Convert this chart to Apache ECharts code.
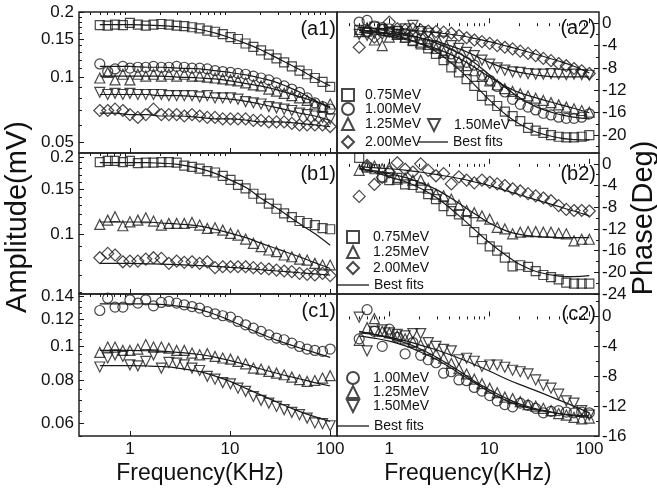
<!DOCTYPE html>
<html><head><meta charset="utf-8">
<script src="https://cdn.jsdelivr.net/npm/echarts@6/dist/echarts.min.js"></script>
<style>html,body{margin:0;padding:0;background:#fff}#c{width:657px;height:495px}</style>
</head><body><div id="c"></div>
<script>
// ---------- data ----------
const freq = [0.5,0.6,0.71,0.85,1.0,1.2,1.44,1.72,2.06,2.45,2.93,3.49,4.17,4.97,5.93,7.08,8.45,10.1,12.0,14.3,17.1,20.4,24.4,29.1,34.7,41.4,49.4,58.9,70.3,83.9,100];
const fitFreq = [0.5,0.7,1,1.5,2,3,5,7,10,15,20,30,50,70,100];

// (a1) amplitude
const a1_075 = [0.174,0.173,0.175,0.174,0.178,0.175,0.173,0.175,0.176,0.175,0.173,0.172,0.170,0.168,0.164,0.162,0.158,0.153,0.150,0.143,0.138,0.133,0.127,0.122,0.117,0.112,0.107,0.103,0.099,0.095,0.090];
const a1_100 = [0.115,0.106,0.109,0.112,0.110,0.111,0.111,0.112,0.111,0.111,0.112,0.111,0.110,0.110,0.109,0.107,0.106,0.105,0.104,0.103,0.101,0.099,0.097,0.094,0.091,0.088,0.085,0.080,0.076,0.073,0.071];
const a1_125 = [0.099,0.105,0.097,0.103,0.097,0.103,0.101,0.103,0.101,0.103,0.101,0.103,0.101,0.101,0.100,0.099,0.098,0.097,0.096,0.094,0.092,0.091,0.088,0.086,0.084,0.082,0.080,0.078,0.075,0.073,0.075];
const a1_150 = [0.085,0.083,0.084,0.083,0.084,0.083,0.083,0.083,0.083,0.082,0.082,0.082,0.082,0.081,0.082,0.080,0.080,0.080,0.079,0.077,0.076,0.075,0.073,0.072,0.071,0.070,0.068,0.067,0.066,0.065,0.064];
const a1_200 = [0.070,0.070,0.071,0.070,0.067,0.065,0.067,0.071,0.067,0.067,0.067,0.066,0.067,0.066,0.065,0.065,0.064,0.064,0.064,0.064,0.063,0.063,0.062,0.062,0.062,0.061,0.060,0.060,0.060,0.060,0.059];
const a1f_075 = [0.175,0.175,0.175,0.174,0.173,0.171,0.166,0.160,0.152,0.142,0.134,0.122,0.108,0.099,0.091];
const a1f_100 = [0.112,0.112,0.112,0.111,0.111,0.110,0.109,0.107,0.105,0.102,0.099,0.094,0.085,0.078,0.072];
const a1f_125 = [0.101,0.101,0.101,0.101,0.101,0.100,0.099,0.098,0.096,0.093,0.091,0.087,0.081,0.077,0.073];
const a1f_150 = [0.083,0.083,0.083,0.083,0.082,0.082,0.081,0.080,0.079,0.077,0.075,0.072,0.068,0.066,0.063];
const a1f_200 = [0.068,0.068,0.067,0.067,0.066,0.066,0.065,0.064,0.064,0.063,0.062,0.062,0.061,0.060,0.059];

// (a2) phase
const a2_075 = [-1.2,-1.5,-0.6,-1.0,-1.6,-2.0,-2.6,-3.2,-3.8,-4.5,-5.5,-6.6,-7.9,-8.8,-10.0,-11.2,-13.0,-13.8,-14.8,-15.8,-16.6,-17.5,-18.7,-19.2,-19.6,-20.0,-20.3,-20.4,-20.4,-20.3,-20.0];
const a2_100 = [0.2,0.5,-0.5,-0.8,-1.0,-1.4,-1.8,-2.3,-2.8,-3.4,-4.0,-4.8,-5.5,-6.2,-7.0,-7.5,-9.3,-10.2,-11.3,-12.3,-13.6,-14.5,-15.0,-15.5,-16.1,-16.4,-16.8,-17.0,-17.0,-16.8,-16.2];
const a2_125 = [-1.5,-0.8,-3.0,-4.0,-2.5,-2.0,-2.5,-3.0,-3.4,-3.8,-4.5,-5.2,-6.0,-6.8,-7.6,-8.5,-9.5,-10.3,-11.0,-11.7,-12.2,-12.6,-13.0,-13.4,-13.8,-14.2,-14.6,-15.0,-15.3,-15.6,-15.9];
const a2_150 = [-2.0,-2.2,-1.8,-2.0,-1.6,-1.5,-1.0,-0.4,-1.5,-1.8,-2.5,-3.2,-4.0,-4.5,-5.2,-5.8,-6.6,-7.3,-8.0,-8.4,-8.7,-8.8,-9.0,-9.1,-9.1,-9.0,-9.1,-9.2,-9.1,-9.2,-9.3];
const a2_200 = [-4.3,-1.5,-2.5,-1.2,0.2,-1.0,-1.2,-1.0,-1.2,-1.4,-1.5,-1.6,-1.8,-2.2,-2.6,-3.0,-3.3,-3.6,-4.0,-4.3,-4.6,-5.0,-5.4,-5.8,-6.3,-6.7,-7.2,-7.6,-8.1,-8.5,-9.0];
const a2f_075 = [-1.3,-1.6,-2.0,-2.8,-3.6,-5.2,-8.3,-10.9,-13.7,-16.5,-18.0,-19.5,-20.5,-20.8,-20.9];
const a2f_100 = [-0.8,-1.0,-1.4,-2.0,-2.6,-3.6,-5.4,-7.0,-9.2,-11.7,-13.3,-15.0,-16.3,-16.8,-17.1];
const a2f_125 = [-1.6,-1.9,-2.3,-3.0,-3.6,-4.6,-6.3,-7.8,-9.6,-11.4,-12.4,-13.4,-14.5,-15.2,-16.0];
const a2f_150 = [-1.3,-1.5,-1.8,-2.2,-2.6,-3.3,-4.6,-5.7,-7.0,-8.2,-8.8,-9.3,-9.6,-9.6,-9.6];
const a2f_200 = [-0.8,-0.9,-1.0,-1.2,-1.4,-1.7,-2.2,-2.7,-3.3,-4.1,-4.7,-5.6,-6.8,-7.7,-8.9];

// (b1) amplitude
const b1_075 = [0.191,0.193,0.193,0.191,0.193,0.189,0.190,0.190,0.191,0.191,0.190,0.185,0.183,0.180,0.176,0.174,0.169,0.163,0.156,0.151,0.144,0.138,0.132,0.126,0.121,0.117,0.113,0.111,0.109,0.106,0.105];
const b1_125 = [0.1096,0.1139,0.1174,0.1083,0.1122,0.1139,0.1163,0.1129,0.109,0.1106,0.1106,0.1106,0.1116,0.109,0.1058,0.1064,0.1042,0.1012,0.0997,0.0962,0.0926,0.0899,0.0873,0.086,0.0835,0.0822,0.0805,0.0798,0.0775,0.0764,0.0764];
const b1_200 = [0.0815,0.0847,0.0835,0.0786,0.0791,0.0791,0.0805,0.0815,0.081,0.0775,0.0791,0.0782,0.0786,0.0775,0.0786,0.0746,0.0752,0.0752,0.0752,0.0752,0.0746,0.0741,0.0737,0.073,0.0724,0.072,0.0709,0.0703,0.0699,0.0709,0.0695];
const b1f_075 = [0.190,0.190,0.190,0.190,0.189,0.187,0.180,0.173,0.163,0.151,0.139,0.126,0.110,0.101,0.091];
const b1f_125 = [0.112,0.112,0.112,0.112,0.111,0.110,0.108,0.105,0.1015,0.097,0.093,0.088,0.082,0.078,0.074];
const b1f_200 = [0.0775,0.0775,0.0775,0.0772,0.077,0.0766,0.076,0.0755,0.0748,0.074,0.0733,0.0724,0.0713,0.0706,0.0698];

// (b2) phase
const b2_075 = [1.1,-0.7,-1.0,-2.5,-3.0,-2.6,-3.8,-3.9,-4.4,-5.6,-6.5,-7.8,-8.7,-9.3,-10.5,-12.6,-13.9,-15.2,-16.0,-17.3,-18.9,-18.7,-19.0,-19.8,-20.5,-20.9,-21.3,-21.9,-22.1,-22.1,-22.1];
const b2_125 = [-1.2,-0.4,-0.4,-0.9,-0.7,-2.8,-2.6,-3.0,-3.0,-4.5,-5.6,-5.9,-6.5,-7.6,-8.6,-9.0,-9.6,-10.2,-11.7,-12.0,-12.9,-12.6,-12.5,-12.5,-12.6,-12.6,-12.8,-12.9,-14.2,-13.9,-13.9];
const b2_200 = [-6.0,-0.3,-3.8,-2.5,-1.5,0.2,-1.0,-1.5,0.0,-1.2,-2.2,-1.8,-3.7,-2.4,-3.0,-3.5,-3.0,-3.4,-3.7,-4.0,-4.6,-5.0,-5.5,-5.9,-6.3,-6.8,-7.7,-8.4,-8.6,-8.6,-8.7];
const b2f_075 = [-0.8,-1.5,-2.4,-3.4,-4.4,-6.3,-9.6,-12.0,-14.5,-17.0,-18.5,-19.9,-20.7,-20.8,-20.6];
const b2f_125 = [-1.0,-1.3,-1.8,-2.6,-3.4,-4.8,-7.3,-9.1,-10.9,-12.4,-13.0,-13.4,-13.6,-13.6,-13.6];
const b2f_200 = [-0.5,-0.7,-0.9,-1.2,-1.5,-2.0,-2.7,-3.3,-4.0,-5.0,-5.7,-6.7,-7.9,-8.7,-9.6];

// (c1) amplitude
const c1_100 = [0.1272,0.1381,0.1301,0.1301,0.1366,0.1336,0.1366,0.1312,0.1342,0.1351,0.1336,0.1321,0.1306,0.1292,0.1263,0.1244,0.1228,0.1217,0.1182,0.1156,0.1130,0.1106,0.1081,0.1058,0.1046,0.1023,0.1000,0.0983,0.0974,0.0968,0.0983];
const c1_125 = [0.0961,0.0996,0.0996,0.0974,0.0974,0.0983,0.1013,0.0996,0.0996,0.0989,0.0974,0.0974,0.0957,0.0946,0.0953,0.0936,0.0926,0.0919,0.0905,0.0891,0.0866,0.0860,0.0847,0.0837,0.0828,0.0815,0.0801,0.0792,0.0797,0.081,0.0823];
const c1_150 = [0.0872,0.0926,0.0946,0.0936,0.0885,0.0879,0.0905,0.0946,0.0866,0.0899,0.0895,0.0885,0.0866,0.0852,0.0819,0.0804,0.0786,0.0779,0.0757,0.0741,0.0716,0.0698,0.0685,0.0670,0.0656,0.0644,0.0634,0.062,0.060,0.0597,0.0589];
const c1f_100 = [0.133,0.133,0.133,0.133,0.1325,0.131,0.128,0.124,0.119,0.113,0.109,0.104,0.099,0.096,0.093];
const c1f_125 = [0.0975,0.0975,0.0975,0.0972,0.097,0.0962,0.0948,0.0932,0.091,0.0883,0.0862,0.0835,0.0805,0.0786,0.0768];
const c1f_150 = [0.088,0.088,0.088,0.0878,0.0875,0.0866,0.0845,0.0822,0.0792,0.0752,0.0725,0.0688,0.0647,0.0626,0.0606];

// (c2) phase
const c2_100 = [-3.0,0.9,-2.0,-4.0,-1.7,-2.8,-5.0,-3.5,-5.2,-5.8,-6.2,-7.6,-7.4,-8.5,-8.6,-9.5,-10.0,-10.6,-11.3,-11.8,-12.1,-11.6,-11.9,-12.3,-12.9,-12.7,-12.6,-12.8,-12.9,-12.8,-12.9];
const c2_125 = [-3.2,-1.5,-0.3,-2.0,-2.2,-2.6,-3.0,-3.4,-3.8,-4.4,-5.0,-5.6,-6.3,-7.0,-7.7,-8.4,-9.0,-9.6,-10.2,-10.8,-11.0,-11.4,-11.8,-12.0,-12.3,-12.6,-13.0,-13.2,-13.5,-13.7,-13.6];
const c2_150 = [-0.1,-4.6,-2.0,-1.8,-2.2,-2.4,-2.6,-2.3,-2.3,-3.5,-4.0,-4.4,-4.6,-5.8,-5.6,-6.0,-6.7,-6.5,-6.5,-6.8,-7.2,-7.4,-7.7,-8.5,-9.2,-9.6,-10.4,-11.3,-11.6,-12.6,-13.2];
const c2f_100 = [-2.6,-2.9,-3.3,-4.0,-4.7,-5.8,-7.6,-8.8,-10.1,-11.3,-11.9,-12.5,-13.0,-13.2,-13.3];
const c2f_125 = [-2.0,-2.4,-2.9,-3.6,-4.3,-5.5,-7.3,-8.6,-9.8,-11.0,-11.7,-12.4,-13.0,-13.3,-13.5];
const c2f_150 = [-2.2,-2.4,-2.8,-3.3,-3.8,-4.5,-5.6,-6.4,-7.3,-8.4,-9.1,-10.0,-11.2,-12.0,-12.9];

// tick labels
const xTickLabels = [1, 10, 100];
const xMinorTicks = [0.4,0.5,0.6,0.7,0.8,0.9,2,3,4,5,6,7,8,9,20,30,40,50,60,70,80,90];
const a1Ticks = [0.05, 0.1, 0.15, 0.2];
const b1Ticks = [0.1, 0.15, 0.2];
const c1Ticks = [0.06, 0.08, 0.1, 0.12, 0.14];
const a2Ticks = [-20, -16, -12, -8, -4, 0];
const b2Ticks = [-24, -20, -16, -12, -8, -4, 0];
const c2Ticks = [-16, -12, -8, -4, 0];
const a1Minor = [0.05,0.06,0.07,0.08,0.09,0.11,0.12,0.13,0.14,0.16,0.17,0.18,0.19];
const b1Minor = [0.06,0.07,0.08,0.09,0.11,0.12,0.13,0.14,0.16,0.17,0.18,0.19];
const c1Minor = [0.055,0.065,0.07,0.075,0.085,0.09,0.095,0.105,0.11,0.115,0.125,0.13,0.135];
const a2Minor = [-22,-18,-14,-10,-6,-2];
const b2Minor = [-22,-18,-14,-10,-6,-2];
const c2Minor = [-14,-10,-6,-2,2];

const panelLabels = ['(a1)','(a2)','(b1)','(b2)','(c1)','(c2)'];

// ---------- build ----------
const FONT = "'Liberation Sans', Arial, sans-serif";
const INK = '#1a1a1a';
const SYM = {'0.75MeV':'rect','1.00MeV':'circle','1.25MeV':'triangle','1.50MeV':'path://M0,0L10,0L5,10Z','2.00MeV':'diamond'};
const SIZE = {'0.75MeV':9,'1.00MeV':10,'1.25MeV':10,'1.50MeV':10,'2.00MeV':12};
const TICKFONT = 17;

const grids = [
  {left:79, top:12, width:258, height:141},
  {left:337, top:12, width:262, height:141},
  {left:79, top:153, width:258, height:141},
  {left:337, top:153, width:262, height:141},
  {left:79, top:294, width:258, height:142},
  {left:337, top:294, width:262, height:142}
];
const xRange = [[0.31,117],[0.3,125],[0.31,117],[0.3,125],[0.31,117],[0.3,125]];
const yDef = [
  {type:'log', min:0.0445, max:0.2, ticks:a1Ticks, minor:a1Minor},
  {type:'value', min:-23.2, max:2, ticks:a2Ticks, minor:a2Minor},
  {type:'log', min:0.059, max:0.207, ticks:b1Ticks, minor:b1Minor},
  {type:'value', min:-24, max:2, ticks:b2Ticks, minor:b2Minor},
  {type:'log', min:0.055, max:0.142, ticks:c1Ticks, minor:c1Minor},
  {type:'value', min:-16, max:3, ticks:c2Ticks, minor:c2Minor}
];
const panels = [
  [['0.75MeV',a1_075,a1f_075],['1.00MeV',a1_100,a1f_100],['1.25MeV',a1_125,a1f_125],['1.50MeV',a1_150,a1f_150],['2.00MeV',a1_200,a1f_200]],
  [['0.75MeV',a2_075,a2f_075],['1.00MeV',a2_100,a2f_100],['1.25MeV',a2_125,a2f_125],['1.50MeV',a2_150,a2f_150],['2.00MeV',a2_200,a2f_200]],
  [['0.75MeV',b1_075,b1f_075],['1.25MeV',b1_125,b1f_125],['2.00MeV',b1_200,b1f_200]],
  [['0.75MeV',b2_075,b2f_075],['1.25MeV',b2_125,b2f_125],['2.00MeV',b2_200,b2f_200]],
  [['1.00MeV',c1_100,c1f_100],['1.25MeV',c1_125,c1f_125],['1.50MeV',c1_150,c1f_150]],
  [['1.00MeV',c2_100,c2f_100],['1.25MeV',c2_125,c2f_125],['1.50MeV',c2_150,c2f_150]]
];

const fmt = v => String(+(+v).toFixed(3));
const xAxis = [], yAxis = [], series = [];
grids.forEach((g, i) => {
  xAxis.push({type:'log', logBase:10, gridIndex:i, min:xRange[i][0], max:xRange[i][1],
    axisLine:{show:false}, splitLine:{show:false},
    axisTick:{show:true, inside:true, length:5, customValues:xTickLabels, lineStyle:{color:INK, width:1}},
    axisLabel:{show:i>=4, customValues:xTickLabels, margin:5, fontSize:TICKFONT, color:'#111', fontFamily:FONT, formatter:fmt}});
});
grids.forEach((g, i) => {
  xAxis.push({type:'log', logBase:10, gridIndex:i, min:xRange[i][0], max:xRange[i][1],
    axisLine:{show:false}, splitLine:{show:false}, axisLabel:{show:false},
    axisTick:{show:true, inside:true, length:3, customValues:xMinorTicks, lineStyle:{color:INK, width:1}}});
});
grids.forEach((g, i) => {
  const d = yDef[i], right = (i % 2 === 1);
  yAxis.push({type:d.type, gridIndex:i, min:d.min, max:d.max, position:right?'right':'left',
    axisLine:{show:false}, splitLine:{show:false},
    axisTick:{show:true, inside:true, length:5, customValues:d.ticks, lineStyle:{color:INK, width:1}},
    axisLabel:{customValues:d.ticks, margin:right?3:5, fontSize:TICKFONT, color:'#111', fontFamily:FONT, formatter:fmt}});
});
grids.forEach((g, i) => {
  const d = yDef[i], right = (i % 2 === 1);
  yAxis.push({type:d.type, gridIndex:i, min:d.min, max:d.max, position:right?'right':'left',
    axisLine:{show:false}, splitLine:{show:false}, axisLabel:{show:false},
    axisTick:{show:true, inside:true, length:3, customValues:d.minor, lineStyle:{color:INK, width:1}}});
});
panels.forEach((list, i) => {
  list.forEach(([name, vals, fit]) => {
    series.push({type:'line', name:'Best fits', xAxisIndex:i, yAxisIndex:i,
      symbol:'none', showSymbol:false, smooth:0.4, z:2,
      itemStyle:{color:INK}, lineStyle:{color:INK, width:1.2},
      data: fitFreq.map((f, k) => [f, fit[k]])});
  });
  list.forEach(([name, vals, fit]) => {
    series.push({type:'scatter', name, xAxisIndex:i, yAxisIndex:i, z:3,
      symbol:SYM[name], symbolSize:SIZE[name],
      itemStyle:{color:'rgba(255,255,255,0)', borderColor:INK, borderWidth:1.2},
      data: freq.map((f, k) => [f, vals[k]])});
  });
});

// legend placements: [name, left, top, itemWidth, textPadLeft]
const legendPlaces = [
  ['0.75MeV',341,88,12,6],['1.00MeV',341,102,12,6],['1.25MeV',341,117,12,6],['1.50MeV',427,118,12,9],
  ['2.00MeV',341,135,12,6],['Best fits',418,135,30,0],
  ['0.75MeV',346,230,12,9],['1.25MeV',346,245,12,9],['2.00MeV',346,261,12,9],['Best fits',337,278,32,0],
  ['1.00MeV',346,371,12,9],['1.25MeV',346,385,12,9],['1.50MeV',346,399,12,9],['Best fits',337,419,32,0]
];
const legend = legendPlaces.map(([name, left, top, w, pad]) => {
  const isFit = name === 'Best fits';
  return {
    data:[isFit ? {name, icon:'rect', itemStyle:{color:INK, borderWidth:0}} : name],
    left, top, orient:'horizontal', padding:0, itemGap:0,
    itemWidth:w, itemHeight:isFit ? 1.3 : 12, selectedMode:false,
    textStyle:{fontSize:14, color:'#111', fontFamily:FONT, lineHeight:14, padding:[0,0,0,pad]}
  };
});

const labelPos = [[336,29],[596,28],[336,174],[596,174],[336,311],[596,314]];
const graphic = [];
panelLabels.forEach((t, i) => graphic.push({type:'text', x:labelPos[i][0], y:labelPos[i][1], z:100,
  style:{text:t, font:"20px " + FONT, fill:'#111', textAlign:'right', textVerticalAlign:'middle'}}));
graphic.push({type:'text', x:18, y:217, rotation:Math.PI/2,
  style:{text:'Amplitude(mV)', font:"29px " + FONT, fill:'#111', textAlign:'center', textVerticalAlign:'middle'}});
graphic.push({type:'text', x:644, y:218, rotation:Math.PI/2,
  style:{text:'Phase(Deg)', font:"29px " + FONT, fill:'#111', textAlign:'center', textVerticalAlign:'middle'}});
graphic.push({type:'text', x:200, y:474,
  style:{text:'Frequency(KHz)', font:"23px " + FONT, fill:'#111', textAlign:'center', textVerticalAlign:'middle'}});
graphic.push({type:'text', x:468, y:474,
  style:{text:'Frequency(KHz)', font:"23px " + FONT, fill:'#111', textAlign:'center', textVerticalAlign:'middle'}});

const chart = echarts.init(document.getElementById('c'), null, {renderer:'canvas'});
chart.setOption({
  animation:false,
  backgroundColor:'#fff',
  textStyle:{fontFamily:FONT},
  grid: grids.map(g => Object.assign({show:true, borderColor:'#222', borderWidth:1.5, backgroundColor:'rgba(0,0,0,0)', containLabel:false}, g)),
  xAxis, yAxis, series, legend, graphic
});
</script></body></html>
